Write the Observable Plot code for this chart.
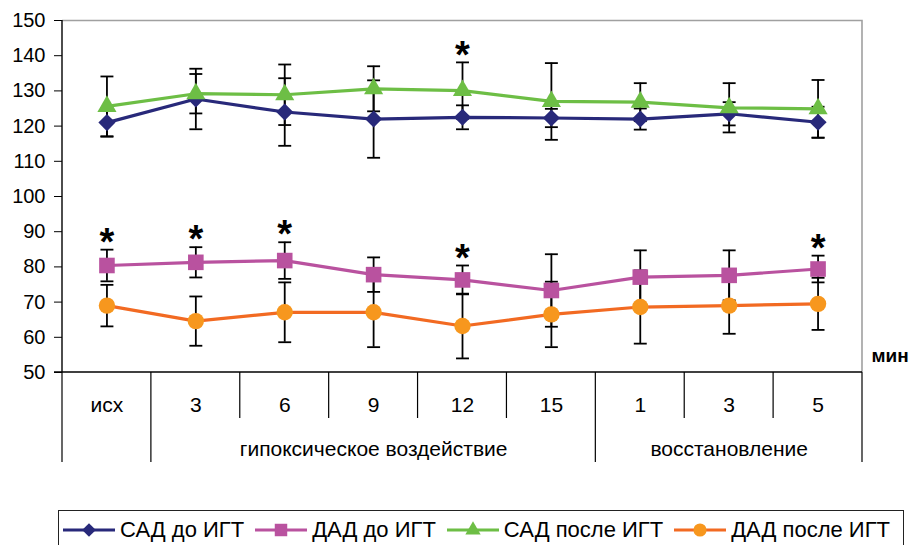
<!DOCTYPE html>
<html>
<head>
<meta charset="utf-8">
<script src="https://cdn.jsdelivr.net/npm/d3@7"></script>
<script src="https://cdn.jsdelivr.net/npm/@observablehq/plot@0.6"></script>
<style>
  html, body { margin: 0; padding: 0; background: #fff; }
  body { font-family: "Liberation Sans", Arial, sans-serif; }
  #wrap { position: relative; width: 912px; height: 545px; overflow: hidden; }
  #legend {
    position: absolute; left: 58px; top: 510px; width: 846px; height: 48px;
    box-sizing: border-box; border: 1.3px solid #222; background: #fff;
    display: flex; align-items: flex-start; padding: 6px 0 0 4px; gap: 11px;
  }
  .item { display: flex; align-items: center; }
  .item span { font-size: 22px; margin-left: 5px; color: #000; white-space: nowrap; line-height: 25px; }
</style>
</head>
<body>
<div id="wrap"><div id="chart"></div><div id="legend"></div></div>
<script>
// ---- data ----
const categories = ["исх", "3", "6", "9", "12", "15", "1", "3", "5"];
const yTicks = [50, 60, 70, 80, 90, 100, 110, 120, 130, 140, 150];

const groupLabels = ["гипоксическое воздействие", "восстановление"];
const groupStart = [1, 6];
const groupEnd = [6, 9];

const seriesNames = ["САД до ИГТ", "ДАД до ИГТ", "САД после ИГТ", "ДАД после ИГТ"];

const sadBefore    = [121.0, 127.7, 124.0, 122.0, 122.5, 122.3, 122.0, 123.5, 121.1];
const sadBeforeErr = [4.0, 8.6, 9.6, 11.0, 3.4, 2.6, 3.0, 3.3, 4.4];

const dadBefore    = [80.4, 81.3, 81.8, 77.8, 76.3, 73.3, 77.1, 77.6, 79.4];
const dadBeforeErr = [4.5, 4.3, 5.2, 4.9, 4.1, 10.3, 7.6, 7.1, 3.8];

const sadAfter     = [125.6, 129.2, 128.9, 130.6, 130.1, 127.0, 126.8, 125.2, 124.9];
const sadAfterErr  = [8.5, 5.6, 8.6, 6.4, 8.0, 10.9, 5.4, 7.0, 8.2];

const dadAfter     = [69.0, 64.6, 67.1, 67.1, 63.2, 66.5, 68.6, 69.0, 69.5];
const dadAfterErr  = [5.9, 7.0, 8.5, 9.9, 9.2, 9.3, 10.4, 8.0, 7.4];

// significance marks (*): series index, category index
const starSeries = [1, 1, 1, 1, 1, 2];
const starIndex  = [0, 1, 2, 4, 8, 4];

// ---- styling ----
const styles = [
  { line: "#28297A", fill: "#28297A", symbol: "diamond2", r: 7.7 },
  { line: "#B9529F", fill: "#B9529F", symbol: "square",   r: 8.8 },
  { line: "#6DBE45", fill: "#6DBE45", symbol: "triangle", r: 7.1 },
  { line: "#F26A22", fill: "#F7971E", symbol: "circle",   r: 8.2 }
];
const values = [sadBefore, dadBefore, sadAfter, dadAfter];
const errors = [sadBeforeErr, dadBeforeErr, sadAfterErr, dadAfterErr];

const series = seriesNames.map((name, s) => ({
  name, ...styles[s],
  rows: categories.map((c, i) => ({ pos: i + 0.5, v: values[s][i], e: errors[s][i] }))
}));

const starRows = starSeries.map((s, k) => {
  const i = starIndex[k];
  return { pos: i + 0.5, top: values[s][i] + errors[s][i] };
});

const groups = groupLabels.map((label, g) => ({ label, pos: (groupStart[g] + groupEnd[g]) / 2 }));
const boundaries = d3.range(categories.length + 1);
const groupEdges = [0, ...groupStart, categories.length];

// horizontal cap symbol for error bars
const capSymbol = {
  draw(ctx, size) {
    const w = Math.sqrt(size);
    ctx.moveTo(-w / 2, 0);
    ctx.lineTo(w / 2, 0);
  }
};

// frame + category table lines
function tableFrame(index, scales, vals, dims) {
  const { width, height, marginLeft, marginRight, marginTop, marginBottom } = dims;
  const xL = marginLeft, xR = width - marginRight, yT = marginTop, yB = height - marginBottom;
  const g = d3.create("svg:g").attr("fill", "none");
  g.append("path").attr("d", `M${xL},${yT + 0.5}H${xR}V${yB}`)
    .attr("stroke", "#a0a0a0").attr("stroke-width", 1.6);
  g.append("line").attr("x1", xL - 8).attr("x2", xR).attr("y1", yB).attr("y2", yB)
    .attr("stroke", "#000").attr("stroke-width", 1.4);
  g.append("line").attr("x1", xL).attr("x2", xL).attr("y1", yT).attr("y2", yB)
    .attr("stroke", "#000").attr("stroke-width", 1.4);
  boundaries.forEach(b => {
    const x = scales.x(b);
    const len = groupEdges.includes(b) ? 90 : 46;
    g.append("line").attr("x1", x).attr("x2", x).attr("y1", yB).attr("y2", yB + len)
      .attr("stroke", "#000").attr("stroke-width", 1.2);
  });
  return g.node();
}

const errMarks = series.flatMap(s => [
  Plot.ruleX(s.rows, { x: "pos", y1: d => d.v - d.e, y2: d => d.v + d.e, stroke: "#000", strokeWidth: 1.8 }),
  Plot.dot(s.rows, { x: "pos", y: d => d.v + d.e, symbol: capSymbol, r: 7.3, stroke: "#000", strokeWidth: 1.8, fill: "none" }),
  Plot.dot(s.rows, { x: "pos", y: d => d.v - d.e, symbol: capSymbol, r: 7.3, stroke: "#000", strokeWidth: 1.8, fill: "none" })
]);

const seriesMarks = series.flatMap(s => [
  Plot.line(s.rows, { x: "pos", y: "v", stroke: s.line, strokeWidth: 3.2 }),
  Plot.dot(s.rows, { x: "pos", y: "v", symbol: s.symbol, r: s.r, fill: s.fill, stroke: "none" })
]);

const chart = Plot.plot({
  width: 912,
  height: 505,
  marginLeft: 62,
  marginRight: 50,
  marginTop: 20,
  marginBottom: 133,
  style: { fontFamily: '"Liberation Sans", Arial, sans-serif', fontSize: "20px", color: "#000", background: "transparent", overflow: "visible" },
  x: {
    type: "linear", domain: [0, categories.length],
    ticks: categories.map((c, i) => i + 0.5),
    tickFormat: d => categories[Math.floor(d)],
    tickSize: 0, tickPadding: 25, label: null
  },
  y: {
    domain: [50, 150], ticks: yTicks, tickSize: 8, tickPadding: 9, label: null
  },
  marks: [
    tableFrame,
    ...errMarks,
    ...seriesMarks,
    Plot.text(starRows, { x: "pos", y: "top", text: () => "*", fontSize: 38, fontWeight: "bold", dy: -7, fill: "#000" }),
    Plot.text(groups, { x: "pos", frameAnchor: "bottom", text: "label", fontSize: 21, dy: 83, fill: "#000" }),
    Plot.text(["мин"], { frameAnchor: "bottom-right", text: d => d, textAnchor: "start", fontSize: 19, dx: 9, dy: -11, fontWeight: "bold", fill: "#000" })
  ]
});
document.getElementById("chart").appendChild(chart);
// larger category labels on the x axis
d3.select(chart).selectAll("[aria-label='x-axis tick label'] text, g[aria-label='x-axis'] text, [aria-label='x-axis tick label']").attr("font-size", 21);

// ---- legend ----
const legend = d3.select("#legend");
series.forEach(s => {
  const item = legend.append("div").attr("class", "item");
  const sw = item.append("svg").attr("width", 52).attr("height", 24);
  sw.append("line").attr("x1", 0).attr("x2", 52).attr("y1", 12).attr("y2", 12)
    .attr("stroke", s.line).attr("stroke-width", 3.2);
  const symMap = { diamond2: d3.symbolDiamond2, square: d3.symbolSquare, triangle: d3.symbolTriangle, circle: d3.symbolCircle };
  const rr = s.r * 0.8;
  sw.append("path").attr("transform", "translate(26,12)")
    .attr("d", d3.symbol(symMap[s.symbol], rr * rr * Math.PI)())
    .attr("fill", s.fill);
  item.append("span").text(s.name);
});
</script>
</body>
</html>
